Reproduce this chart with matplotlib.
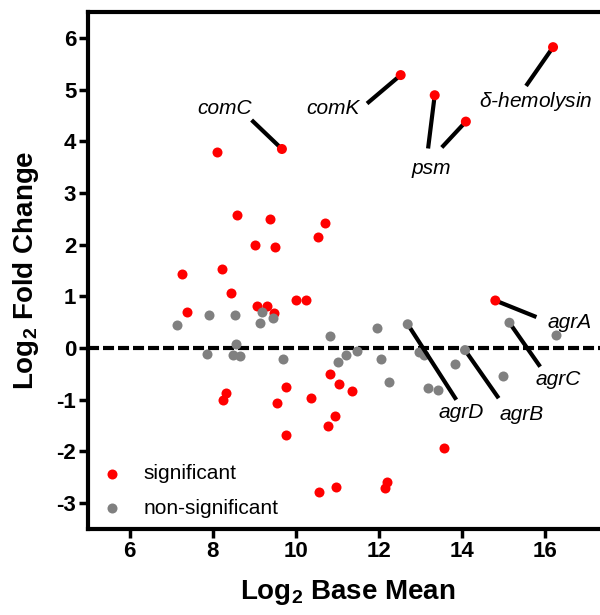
import matplotlib
matplotlib.use('Agg')
import matplotlib.pyplot as pl

# significant genes (red), log2 base mean / log2 fold change
sig_x = [8.11, 8.60, 9.39, 10.71, 10.55, 9.02, 9.50, 7.27, 8.22, 8.44,
         7.39, 9.07, 9.32, 9.47, 10.01, 10.25, 10.82, 11.05, 9.77, 8.33,
         8.25, 9.54, 10.38, 10.95, 10.78, 9.78, 10.57, 10.98, 11.36, 13.58,
         12.21, 12.16]
sig_y = [3.79, 2.58, 2.49, 2.41, 2.14, 2.00, 1.96, 1.43, 1.52, 1.07,
         0.70, 0.81, 0.81, 0.68, 0.92, 0.93, -0.51, -0.70, -0.75, -0.87,
         -1.00, -1.06, -0.97, -1.31, -1.50, -1.68, -2.79, -2.68, -0.84, -1.93,
         -2.59, -2.71]

# non-significant genes (grey)
ns_x = [7.15, 7.92, 8.54, 9.19, 9.14, 9.45, 10.82, 8.57, 7.87, 8.49,
        8.66, 9.69, 11.03, 11.97, 16.28, 11.47, 11.22, 12.06, 12.24, 12.96,
        13.08, 13.83, 13.20, 13.42, 15.00]
ns_y = [0.45, 0.64, 0.64, 0.69, 0.49, 0.58, 0.24, 0.07, -0.12, -0.13,
        -0.15, -0.21, -0.27, 0.38, 0.26, -0.05, -0.14, -0.22, -0.65, -0.07,
        -0.13, -0.31, -0.77, -0.82, -0.55]

# labelled genes
gene_names = ['comC', 'comK', 'psm', 'psm', r'$\delta$-hemolysin',
              'agrA', 'agrB', 'agrC', 'agrD']
gene_x = [9.67, 12.53, 13.35, 14.10, 16.20, 14.81, 14.08, 15.15, 12.70]
gene_y = [3.85, 5.28, 4.89, 4.38, 5.82, 0.92, -0.04, 0.49, 0.46]
gene_sig = [True, True, True, True, True, True, False, False, False]

# where the leader line of each labelled gene ends
line_x = [8.94, 11.72, 13.19, 13.52, 15.55, 15.80, 14.89, 15.89, 13.87]
line_y = [4.41, 4.73, 3.86, 3.88, 5.07, 0.60, -0.97, -0.36, -1.00]

# label text centres (one per name)
label_pos = {
    'comC': (8.30, 4.64),
    'comK': (10.90, 4.63),
    'psm': (13.26, 3.48),
    r'$\delta$-hemolysin': (15.79, 4.77),
    'agrA': (16.61, 0.50),
    'agrB': (15.45, -1.29),
    'agrC': (16.32, -0.61),
    'agrD': (14.00, -1.24),
}

RED = '#ff0000'
GREY = '#808080'


def dandify_axes(ax):
    for side in ['top', 'left', 'bottom']:
        ax.spines[side].set_linewidth(3)
    ax.spines['right'].set_visible(False)
    ax.tick_params(direction='out', length=6.5, width=2.5, labelsize=16, pad=2)
    for lab in ax.get_xticklabels() + ax.get_yticklabels():
        lab.set_fontweight('bold')


def main():
    pl.rcParams['font.family'] = ['Liberation Sans', 'DejaVu Sans']
    pl.rcParams['axes.unicode_minus'] = False
    pl.rcParams['mathtext.fontset'] = 'custom'
    pl.rcParams['mathtext.rm'] = 'Liberation Sans'
    pl.rcParams['mathtext.it'] = 'Liberation Sans:italic'
    pl.rcParams['mathtext.bf'] = 'Liberation Sans:bold'

    fig = pl.figure(figsize=(6, 6.15), dpi=100)
    ax = fig.add_axes([0.1467, 0.1398, 0.865, 0.8407])

    ax.axhline(0, color='black', lw=3, linestyle=(0, (2.65, 0.95)), zorder=1)

    ax.scatter(sig_x, sig_y, s=52, color=RED, linewidths=0, zorder=3,
               label='significant')
    ax.scatter(ns_x, ns_y, s=52, color=GREY, linewidths=0, zorder=3,
               label='non-significant')

    for gx, gy, lx, ly in zip(gene_x, gene_y, line_x, line_y):
        ax.plot([gx, lx], [gy, ly], color='black', lw=3,
                solid_capstyle='butt', zorder=4)
    gcol = [RED if s else GREY for s in gene_sig]
    ax.scatter(gene_x, gene_y, s=52, c=gcol, linewidths=0, zorder=5)

    for name, (tx, ty) in label_pos.items():
        ax.text(tx, ty, name, fontsize=15, style='italic',
                ha='center', va='center', zorder=6)

    ax.set_xlim(5, 17.5)
    ax.set_ylim(-3.5, 6.5)
    ax.set_xticks([6, 8, 10, 12, 14, 16])
    ax.set_yticks(range(-3, 7))

    ax.set_xlabel(r'Log$_\mathbf{2}$ Base Mean', fontsize=20,
                  fontweight='bold')
    ax.set_ylabel(r'Log$_\mathbf{2}$ Fold Change', fontsize=20,
                  fontweight='bold')
    ax.xaxis.set_label_coords(0.5, -0.095)
    ax.yaxis.set_label_coords(-0.091, 0.5)

    ax.legend(loc='lower left', bbox_to_anchor=(0.03, 0.022), frameon=False,
              fontsize=15, handlelength=0.8, handletextpad=1.1,
              labelspacing=0.75, borderpad=0, borderaxespad=0)

    dandify_axes(ax)
    pl.savefig('out.png', dpi=100)


if __name__ == '__main__':
    main()
